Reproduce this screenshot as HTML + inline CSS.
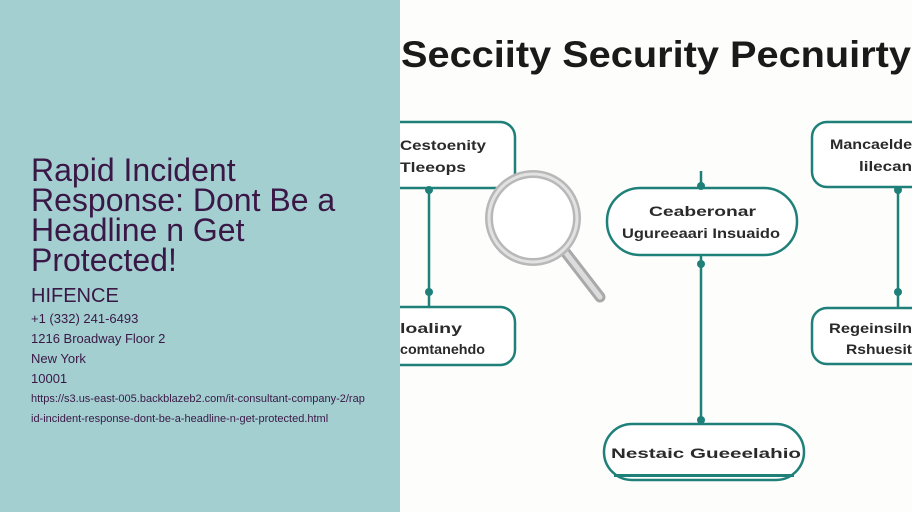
<!DOCTYPE html>
<html><head><meta charset="utf-8"><style>
html,body{margin:0;padding:0;width:912px;height:512px;overflow:hidden;background:#fdfdfc}
#l{position:absolute;left:0;top:0;width:400px;height:512px;background:#a3cfd1;font-family:"Liberation Sans",sans-serif;color:#3a1846}
#l div{position:absolute;left:31px;white-space:nowrap}
#r{position:absolute;left:400px;top:0}
</style></head><body>
<div id="l">
<div style="top:155px;font-size:32px;line-height:30px">Rapid Incident<br>Response: Dont Be a<br>Headline n Get<br>Protected!</div>
<div style="top:285px;font-size:20px">HIFENCE</div>
<div style="top:311px;font-size:13px">+1 (332) 241-6493</div>
<div style="top:331px;font-size:13px">1216 Broadway Floor 2</div>
<div style="top:351px;font-size:13px">New York</div>
<div style="top:371px;font-size:13px">10001</div>
<div style="top:393px;font-size:11px">https://s3.us-east-005.backblazeb2.com/it-consultant-company-2/rap</div>
<div style="top:413px;font-size:11px">id-incident-response-dont-be-a-headline-n-get-protected.html</div>
</div>
<svg id="r" width="512" height="512" viewBox="400 0 512 512" font-family="Liberation Sans,sans-serif">
<rect x="400" y="0" width="512" height="512" fill="#fdfdfc"/>
<text x="401" y="67" font-size="37" font-weight="bold" fill="#1a1a1a" textLength="510" lengthAdjust="spacingAndGlyphs">Secciity Security Pecnuirty</text>
<g stroke="#1e8079" stroke-width="2.5" fill="#fff">
<line x1="429" y1="187" x2="429" y2="307"/>
<line x1="898" y1="187" x2="898" y2="307"/>
<line x1="701" y1="171" x2="701" y2="187"/>
<line x1="701" y1="255" x2="701" y2="424"/>
<rect x="385" y="122" width="130" height="66" rx="15"/>
<rect x="385" y="307" width="130" height="58" rx="15"/>
<rect x="812" y="122" width="130" height="65" rx="15"/>
<rect x="812" y="308" width="130" height="56" rx="15"/>
<rect x="607" y="188" width="190" height="67" rx="33"/>
<rect x="604" y="424" width="200" height="56" rx="28"/>
</g>
<g fill="#1e8079">
<circle cx="429" cy="190" r="4"/><circle cx="429" cy="292" r="4"/>
<circle cx="898" cy="190" r="4"/><circle cx="898" cy="292" r="4"/>
<circle cx="701" cy="186" r="4"/><circle cx="701" cy="264" r="4"/><circle cx="701" cy="420" r="4"/>
<rect x="614" y="474" width="180" height="3"/>
</g>
<g font-size="14" fill="#2a2a2a" font-weight="bold">
<text x="400" y="150" textLength="86" lengthAdjust="spacingAndGlyphs">Cestoenity</text>
<text x="400" y="172" textLength="66" lengthAdjust="spacingAndGlyphs">Tleeops</text>
<text x="400" y="333" textLength="62" lengthAdjust="spacingAndGlyphs">loaliny</text>
<text x="400" y="354" textLength="85" lengthAdjust="spacingAndGlyphs">comtanehdo</text>
<text x="649" y="216" textLength="107" lengthAdjust="spacingAndGlyphs">Ceaberonar</text>
<text x="622" y="238" textLength="158" lengthAdjust="spacingAndGlyphs">Ugureeaari Insuaido</text>
<text x="830" y="149" textLength="82" lengthAdjust="spacingAndGlyphs">Mancaelde</text>
<text x="859" y="171" textLength="53" lengthAdjust="spacingAndGlyphs">lilecan</text>
<text x="829" y="333" textLength="83" lengthAdjust="spacingAndGlyphs">Regeinsiln</text>
<text x="846" y="354" textLength="66" lengthAdjust="spacingAndGlyphs">Rshuesit</text>
<text x="611" y="458" textLength="190" lengthAdjust="spacingAndGlyphs">Nestaic Gueeelahio</text>
</g>
<g>
<line x1="566" y1="253" x2="600" y2="297" stroke="#a9a9a9" stroke-width="11" stroke-linecap="round"/>
<line x1="566" y1="253" x2="600" y2="297" stroke="#dcdcdc" stroke-width="5" stroke-linecap="round"/>
<circle cx="533" cy="218" r="44" fill="#fff" stroke="#b8b8b8" stroke-width="8"/>
<circle cx="533" cy="218" r="44" fill="none" stroke="#e2e2e2" stroke-width="3"/>
</g>
</svg>
</body></html>
